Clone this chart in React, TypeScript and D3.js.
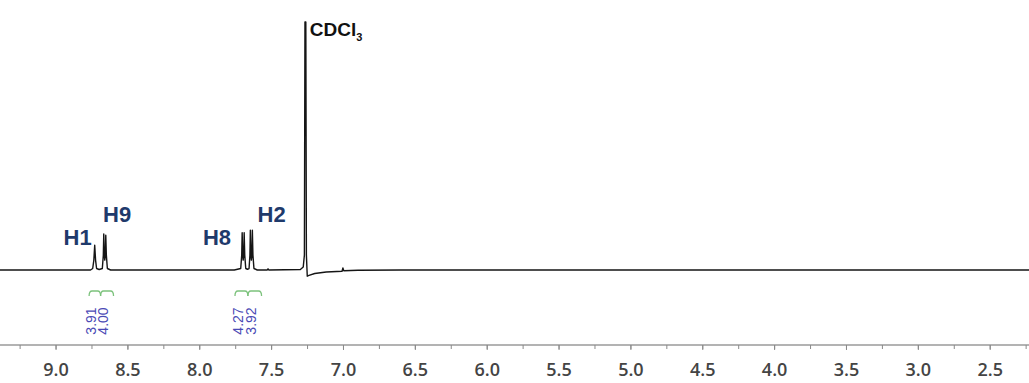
import React from "react";
import * as d3 from "d3";

// 1H NMR spectrum (CDCl3), chemical shift in ppm vs relative intensity
const spectrum: [number, number][] = [
  [9.4, 0], [8.76, 0], [8.745, 0.6], [8.737, 4], [8.731, 10], [8.725, 4], [8.718, 0.6],
  [8.7, 0.2], [8.678, 0.6], [8.671, 6], [8.668, 14.5], [8.664, 6], [8.661, 4],
  [8.657, 6], [8.654, 14], [8.650, 6], [8.643, 0.6], [8.62, 0],
  [7.76, 0], [7.715, 0.6], [7.708, 6], [7.705, 15], [7.701, 6], [7.698, 4],
  [7.694, 6], [7.691, 15], [7.687, 6], [7.68, 0.6], [7.668, 0.3],
  [7.657, 0.6], [7.651, 6], [7.648, 16], [7.644, 6], [7.641, 4],
  [7.637, 6], [7.634, 16], [7.630, 6], [7.623, 0.6], [7.6, 0],
  [7.53, 0], [7.525, 0.5], [7.52, 0], [7.3, 0.2], [7.28, 1.2], [7.272, 6],
  [7.268, 100], [7.262, 100], [7.258, 6], [7.252, -2.5], [7.24, -2.2],
  [7.2, -1.4], [7.12, -0.8], [7.01, -0.5], [7.004, 0.8], [6.998, -0.3],
  [6.9, -0.1], [6.6, 0], [2.2, 0],
];

type Peak = { label: string; ppm: number; height: number };
const peakLabels: Peak[] = [
  { label: "H1", ppm: 8.85, height: 10 },
  { label: "H9", ppm: 8.575, height: 19.5 },
  { label: "H8", ppm: 7.88, height: 10 },
  { label: "H2", ppm: 7.5, height: 19.5 },
];

// integration regions (ppm from, ppm to) and values
const integralFrom = [8.77, 8.69, 7.755, 7.665];
const integralTo = [8.69, 8.6, 7.665, 7.57];
const integralValues = ["3.91", "4.00", "4.27", "3.92"];
const integralLabelPpm = [8.758, 8.673, 7.735, 7.644];

const tickValues = [9.0, 8.5, 8.0, 7.5, 7.0, 6.5, 6.0, 5.5, 5.0, 4.5, 4.0, 3.5, 3.0, 2.5];
const minorTickValues = d3.range(9.25, 2.2, -0.25);

const W = 1029;
const H = 383;

export default function App() {
  const x = d3.scaleLinear().domain([9.39, 2.23]).range([0, W]);
  const y = d3.scaleLinear().domain([0, 100]).range([270, 22]);
  const line = d3
    .line<[number, number]>()
    .x((d) => x(d[0]))
    .y((d) => y(d[1]));

  const axisY = 345;
  const intY = 291;

  return (
    <svg
      width={W}
      height={H}
      style={{ position: "absolute", left: 0, top: 0, background: "#fff" }}
      fontFamily="'Liberation Sans', Arial, sans-serif"
    >
      {/* spectrum trace */}
      <path d={line(spectrum) ?? ""} fill="none" stroke="#151515" strokeWidth={1.4} strokeLinejoin="round" />

      {/* CDCl3 solvent label */}
      <text x={x(7.262) + 4} y={y(100) + 14} fontSize={19} fontWeight="bold" fill="#111">
        CDCl<tspan fontSize={11} dy={5}>3</tspan>
      </text>

      {/* proton assignments */}
      {peakLabels.map((p) => (
        <text
          key={p.label}
          x={x(p.ppm)}
          y={y(p.height)}
          fontSize={22}
          fontWeight="bold"
          fill="#1f3a6b"
          textAnchor="middle"
        >
          {p.label}
        </text>
      ))}

      {/* integral brackets */}
      {integralFrom.map((f, i) => {
        const x1 = x(f);
        const x2 = x(integralTo[i]);
        const d = `M${x1},${intY + 5} Q${x1},${intY} ${x1 + 3},${intY} L${x2 - 3},${intY} Q${x2},${intY} ${x2},${intY + 5}`;
        return <path key={i} d={d} fill="none" stroke="#7cc27c" strokeWidth={1.3} />;
      })}

      {/* integral values */}
      {integralValues.map((v, i) => (
        <text
          key={v + i}
          transform={`translate(${x(integralLabelPpm[i]) + 5},${321}) rotate(-90)`}
          fontSize={14}
          fill="#4a4ab5"
          textAnchor="middle"
        >
          {v}
        </text>
      ))}

      {/* ppm axis */}
      <line x1={0} x2={W} y1={axisY} y2={axisY} stroke="#9a9a9a" strokeWidth={1.3} />
      {minorTickValues.map((t) => (
        <line key={"m" + t} x1={x(t)} x2={x(t)} y1={axisY} y2={axisY + 4} stroke="#8a8a8a" strokeWidth={1} />
      ))}
      {tickValues.map((t) => (
        <g key={t}>
          <line x1={x(t)} x2={x(t)} y1={axisY} y2={axisY + 5} stroke="#8a8a8a" strokeWidth={1} />
          <text
            x={x(t)}
            y={376}
            fontSize={18}
            fill="#444"
            textAnchor="middle"
            fontFamily="'Open Sans', sans-serif"
            fontWeight={600}
          >
            {t.toFixed(1)}
          </text>
        </g>
      ))}
    </svg>
  );
}
